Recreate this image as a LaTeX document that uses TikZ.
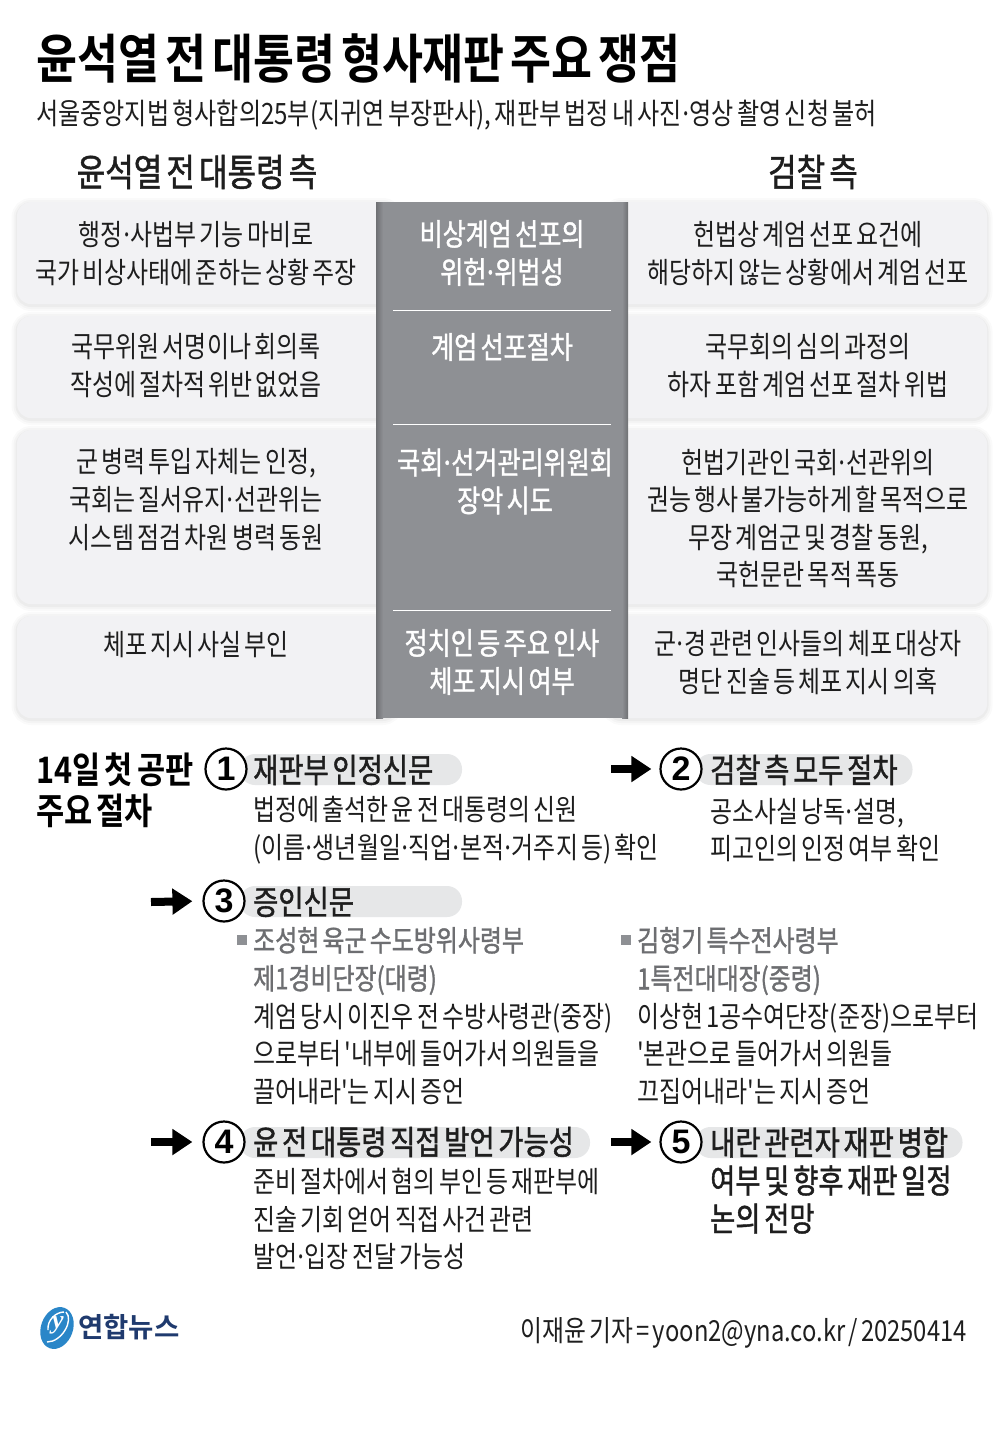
\documentclass[tikz,border=0pt]{standalone}
\usepackage{fontspec}
\usepackage{tikz}
\usetikzlibrary{arrows.meta}
\usetikzlibrary{positioning}
\usetikzlibrary{shapes.geometric}
\newfontfamily\krbody[FakeStretch=0.82,WordSpace=0.6]{Noto Sans CJK KR}
\newfontfamily\krmid[FakeStretch=0.82,WordSpace=0.6,FakeBold=1.2]{Noto Sans CJK KR}
\newfontfamily\krbold[FakeStretch=0.84,WordSpace=0.6]{Noto Sans CJK KR Bold}
\newfontfamily\krlogo{Noto Sans CJK KR Bold}
\newcommand{\mdot}{\hspace{-.1em}·\hspace{-.1em}}
\definecolor{boxgray}{HTML}{F2F2F4}
\definecolor{colgray}{HTML}{8E9094}
\definecolor{pillgray}{HTML}{E6E7E8}
\definecolor{subgray}{HTML}{6D6E71}
\definecolor{inkblack}{HTML}{1E1E1E}
\definecolor{logoblue}{HTML}{2A86C8}
\definecolor{logonavy}{HTML}{1F3A6E}
\tikzset{mbody/.style = {inner sep = 0, text = inkblack, font = \krbody\fontsize{29.2}{37.6}\selectfont}}
\tikzset{mtext/.style = {mbody, align = center}}
\tikzset{ltext/.style = {mbody, align = left, anchor = west}}
\tikzset{mhead/.style = {inner sep = 0, align = center, text = white, font = \krmid\fontsize{30.6}{38}\selectfont}}
\tikzset{msub/.style = {inner sep = 0, align = left, anchor = west, text = subgray, font = \krmid\fontsize{29.2}{38}\selectfont}}
\tikzset{mside/.style = {inner sep = 0, text = inkblack, font = \krmid\fontsize{37.8}{40}\selectfont}}
\tikzset{mstep/.style = {inner sep = 0, anchor = west, text = inkblack, font = \krmid\fontsize{33.4}{38}\selectfont}}
\tikzset{mbox/.style = {fill = boxgray, rounded corners = 14, inner sep = 0,
    preaction = {draw = black, opacity = 0.02, line width = 11, transform canvas = {yshift = -1.5}},
    preaction = {draw = black, opacity = 0.025, line width = 7, transform canvas = {yshift = -1.5}},
    preaction = {draw = black, opacity = 0.03, line width = 3, transform canvas = {yshift = -1.5}}}}
\tikzset{mpill/.style = {fill = pillgray, rounded corners = 15, minimum height = 31, inner sep = 0}}
\tikzset{mnum/.style = {circle, draw = black, line width = 2.2, fill = white, minimum size = 41, inner sep = 0,
    font = \fontspec{Liberation Sans}\bfseries\fontsize{34}{34}\selectfont}}
\tikzset{mrule/.style = {white, line width = 1}}
\tikzset{marrow/.style = {line width = 8, -{Triangle[length = 20, width = 25]}}}
\tikzset{mbullet/.style = {fill = colgray, minimum size = 10, inner sep = 0}}
\begin{document}
\begin{tikzpicture}[x = 1pt, y = -1pt]
      \useasboundingbox (0, 0) rectangle (1004, 1451);
      \fill [white] (0, 0) rectangle (1004, 1451);

      \node [inner sep = 0, anchor = west, text = black, font = \krbold\fontsize{53}{53}\selectfont] (title) at (36, 59) {윤석열 전 대통령 형사재판 주요 쟁점};
      \node [ltext, font = \krbody\fontsize{29.4}{30}\selectfont] (subtitle) at (36, 115) {서울중앙지법 형사합의25부(지귀연 부장판사), 재판부 법정 내 사진\mdot 영상 촬영 신청 불허};

      \node [mside] (sideL) at (197, 172) {윤석열 전 대통령 측};
      \node [mside] (sideR) at (813, 172) {검찰 측};

      \node [mbox, minimum width = 380, minimum height = 102] (boxL1) at (207, 253) {};
      \node [mbox, minimum width = 380, minimum height = 102] (boxL2) at (207, 367) {};
      \node [mbox, minimum width = 380, minimum height = 174] (boxL3) at (207, 517) {};
      \node [mbox, minimum width = 380, minimum height = 102] (boxL4) at (207, 667) {};
      \node [mbox, minimum width = 380, minimum height = 102] (boxR1) at (797, 253) {};
      \node [mbox, minimum width = 380, minimum height = 102] (boxR2) at (797, 367) {};
      \node [mbox, minimum width = 380, minimum height = 174] (boxR3) at (797, 517) {};
      \node [mbox, minimum width = 380, minimum height = 102] (boxR4) at (797, 667) {};

      \node [fill = colgray, minimum width = 252, minimum height = 516, inner sep = 0] (col) at (502, 460) {};
      \shade [left color = black!22!colgray, right color = colgray] (376, 202) rectangle (383, 718);
      \shade [left color = colgray, right color = black!22!colgray] (622, 202) rectangle (628, 718);

      \coordinate (r1a) at (393, 310);
      \coordinate (r1b) at (611, 310);
      \coordinate (r2a) at (393, 424);
      \coordinate (r2b) at (611, 424);
      \coordinate (r3a) at (393, 610);
      \coordinate (r3b) at (611, 610);
      \draw [mrule] (r1a) -- (r1b);
      \draw [mrule] (r2a) -- (r2b);
      \draw [mrule] (r3a) -- (r3b);

      \node [mhead] (head1) at (502, 253) {비상계엄 선포의\\위헌\mdot 위법성};
      \node [mhead] (head2) at (502, 347) {계엄 선포절차};
      \node [mhead] (head3) at (505, 481.5) {국회\mdot 선거관리위원회\\장악 시도};
      \node [mhead] (head4) at (502, 662) {정치인 등 주요 인사\\체포 지시 여부};

      \node [mtext] (textL1) at (196, 253.5) {행정\mdot 사법부 기능 마비로\\국가 비상사태에 준하는 상황 주장};
      \node [mtext] (textL2) at (196, 365.5) {국무위원 서명이나 회의록\\작성에 절차적 위반 없었음};
      \node [mtext] (textL3) at (196, 499.5) {군 병력 투입 자체는 인정,\\국회는 질서유지\mdot 선관위는\\시스템 점검 차원 병력 동원};
      \node [mtext] (textL4) at (196, 644.5) {체포 지시 사실 부인};

      \node [mtext] (textR1) at (808, 253.5) {헌법상 계엄 선포 요건에\\해당하지 않는 상황에서 계엄 선포};
      \node [mtext] (textR2) at (808, 365.5) {국무회의 심의 과정의\\하자 포함 계엄 선포 절차 위법};
      \node [mtext] (textR3) at (808, 518.5) {헌법기관인 국회\mdot 선관위의\\권능 행사 불가능하게 할 목적으로\\무장 계엄군 및 경찰 동원,\\국헌문란 목적 폭동};
      \node [mtext] (textR4) at (808, 662.5) {군\mdot 경 관련 인사들의 체포 대상자\\명단 진술 등 체포 지시 의혹};

      \node [inner sep = 0, align = left, anchor = west, text = black, font = \krbold\fontsize{36.5}{41}\selectfont] (procTitle) at (36, 790) {14일 첫 공판\\주요 절차};

      \node [mpill, minimum width = 222] (pill1) at (351, 769.5) {};
      \node [mpill, minimum width = 217] (pill2) at (804, 769.5) {};
      \node [mpill, minimum width = 222] (pill3) at (351, 901.5) {};
      \node [mpill, minimum width = 350] (pill4) at (415, 1142.5) {};
      \node [mpill, minimum width = 267] (pill5) at (829, 1142.5) {};

      \node [mnum] (num1) at (226, 769) {1};
      \node [mnum] (num2) at (681, 769) {2};
      \node [mnum] (num3) at (224, 901) {3};
      \node [mnum] (num4) at (224, 1142) {4};
      \node [mnum] (num5) at (681, 1142) {5};

      \coordinate (a2) at (611, 769);
      \coordinate (a3) at (151, 902);
      \coordinate (a4) at (151, 1142);
      \coordinate (a5) at (611, 1142);
      \draw [marrow, shorten > = 8] (a2) -- (num2.west);
      \draw [marrow, shorten > = 10] (a3) -- (num3.west);
      \draw [marrow, shorten > = 10] (a4) -- (num4.west);
      \draw [marrow, shorten > = 8] (a5) -- (num5.west);

      \node [mstep] (step1) at (253, 770) {재판부 인정신문};
      \node [mstep] (step2) at (710, 770) {검찰 측 모두 절차};
      \node [mstep] (step3) at (253, 902) {증인신문};
      \node [mstep] (step4) at (253, 1142) {윤 전 대통령 직접 발언 가능성};
      \node [mstep, align = left, anchor = north west, text = inkblack] (step5) at (710, 1127) {내란 관련자 재판 병합\\여부 및 향후 재판 일정\\논의 전망};

      \node [ltext] (text1) at (253, 830.5) {법정에 출석한 윤 전 대통령의 신원\\(이름\mdot 생년월일\mdot 직업\mdot 본적\mdot 거주지 등) 확인};
      \node [ltext] (text2) at (710, 830) {공소사실 낭독\mdot 설명,\\피고인의 인정 여부 확인};

      \node [mbullet] (bullet1) at (242, 940) {};
      \node [mbullet] (bullet2) at (626, 940) {};
      \node [msub] (sub1) at (253, 961) {조성현 육군 수도방위사령부\\제1경비단장(대령)};
      \node [msub] (sub2) at (637, 961) {김형기 특수전사령부\\1특전대대장(중령)};
      \node [ltext] (text3) at (253, 1054) {계엄 당시 이진우 전 수방사령관(중장)\\으로부터 '내부에 들어가서 의원들을\\끌어내라'는 지시 증언};
      \node [ltext] (text4) at (637, 1054) {이상현 1공수여단장(준장)으로부터\\'본관으로 들어가서 의원들\\끄집어내라'는 지시 증언};

      \node [ltext] (text5) at (253, 1219) {준비 절차에서 혐의 부인 등 재판부에\\진술 기회 얻어 직접 사건 관련\\발언\mdot 입장 전달 가능성};

      \node [fill = logoblue, ellipse, minimum width = 32, minimum height = 43, rotate = -20, inner sep = 0] (logo) at (57, 1328) {};
      \draw [white, line width = 1.4] (47, 1342) .. controls (62, 1342) and (74, 1320) .. (66, 1312);
      \draw [white, line width = 1.4] (48, 1330) .. controls (47, 1320) and (56, 1312) .. (64, 1312);
      \node [inner sep = 0, text = white, font = \fontspec{Liberation Serif}\bfseries\itshape\fontsize{26}{26}\selectfont] (logoY) at (58, 1325) {y};
      \node [inner sep = 0, anchor = west, text = logonavy, font = \krlogo\fontsize{27.5}{28}\selectfont] (logoText) at (78, 1327) {연합뉴스};

      \node [inner sep = 0, anchor = east, text = inkblack, font = \krbody\fontsize{29}{30}\selectfont] (credit) at (967, 1333) {이재윤 기자 =~yoon2@yna.co.kr / 20250414};
    \end{tikzpicture}
\end{document}
